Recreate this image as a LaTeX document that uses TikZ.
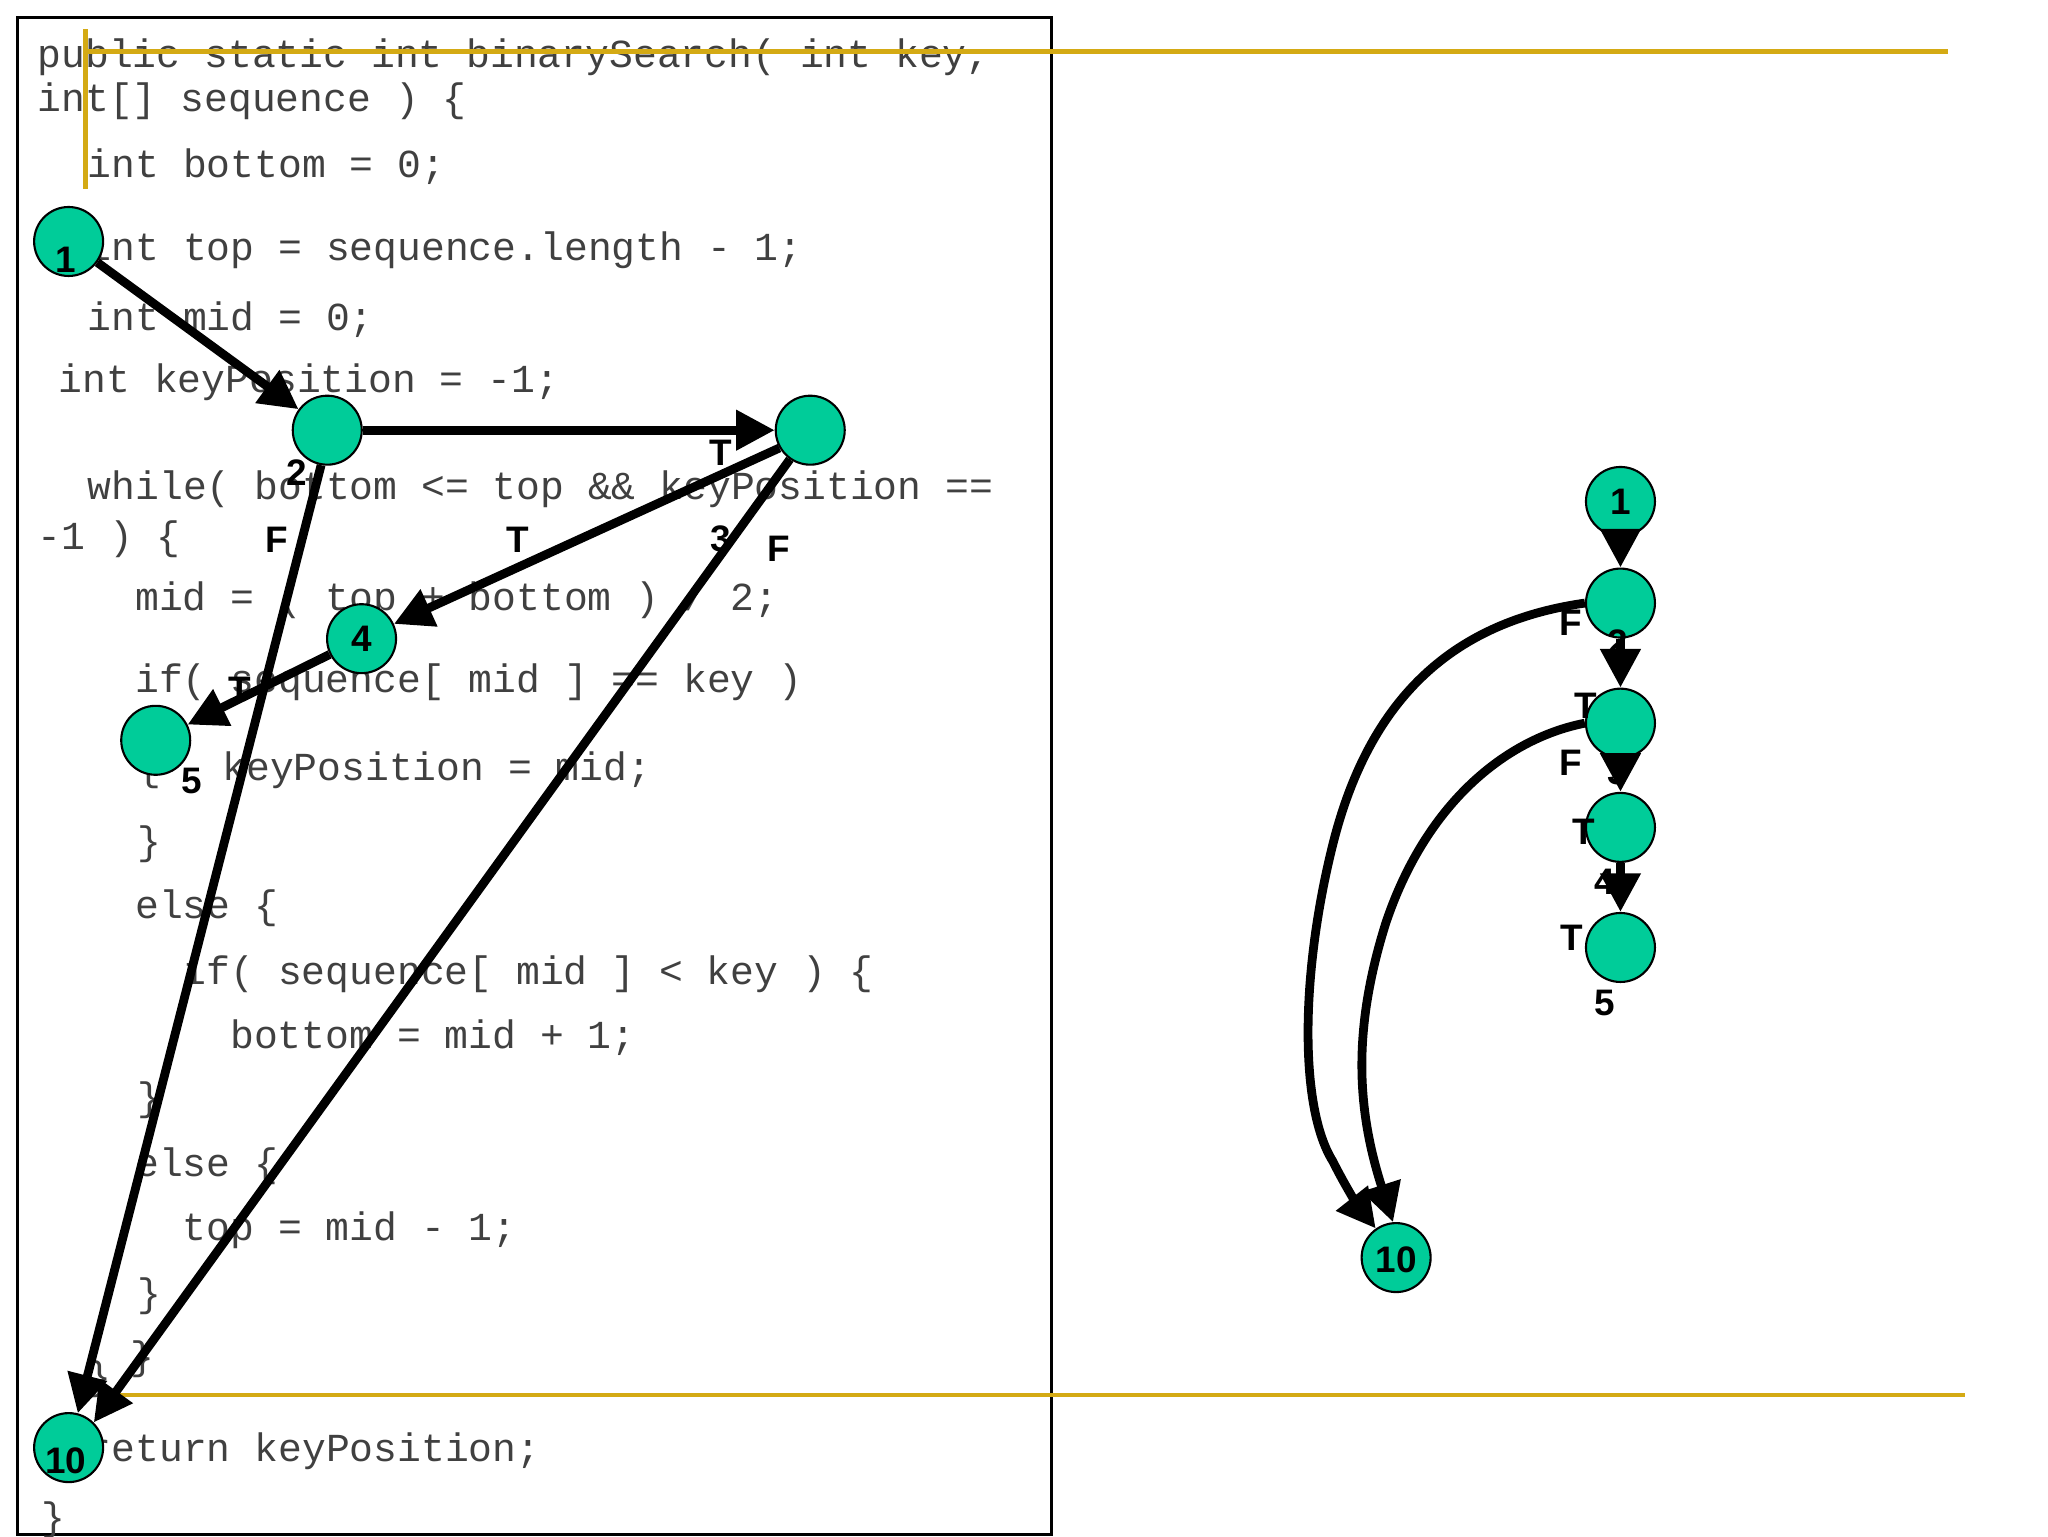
\documentclass[tikz,border=0pt]{standalone}
\usepackage{fontspec}
\setmainfont{Liberation Sans}
\newfontfamily\codefont{Liberation Mono}
\usetikzlibrary{arrows.meta}
\definecolor{teal2}{RGB}{0,204,153}
\definecolor{gold}{RGB}{212,170,20}
\tikzset{
 code/.style={anchor=west,inner sep=0,font=\codefont\fontsize{11.3}{13}\selectfont,text=black!75},
 vtx/.style={circle,draw=black,line width=0.6pt,fill=teal2,minimum size=0.69cm,inner sep=0},
 lab/.style={inner sep=0,font=\bfseries\fontsize{10.5}{11}\selectfont},
 arr/.style={line width=2.5pt,-{Triangle[length=11pt,width=11pt]}},
 yl/.style={draw=gold,line width=1.3pt}
}
\begin{document}
\begin{tikzpicture}[x=0.013196cm,y=-0.013196cm]
\useasboundingbox (0,0) rectangle (1552,1164);
\draw[line width=0.8pt] (13,13) rectangle (797,1163);
% code
\node[code] (c1) at (28,43) {public static int binarySearch( int key,};
\node[code] (c2) at (28,77) {int[] sequence ) \{};
\node[code] (c3) at (66,126) {int bottom = 0;};
\node[code] (c4) at (66,190) {int top = sequence.length - 1;};
\node[code] (c5) at (66,242) {int mid = 0;};
\node[code] (c6) at (44,290) {int keyPosition = -1;};
\node[code] (c7) at (66,371) {while( bottom <= top \&\& keyPosition ==};
\node[code] (c8) at (28,409) {-1 ) \{};
\node[code] (c9) at (102,455) {mid = ( top + bottom ) / 2;};
\node[code] (c10) at (102,517) {if( sequence[ mid ] == key )};
\node[code] (c11) at (104,584) {\{};
\node[code] (c11b) at (168,584) {keyPosition = mid;};
\node[code] (c12) at (104,640) {\}};
\node[code] (c13) at (102,688) {else \{};
\node[code] (c14) at (138,738) {if( sequence[ mid ] < key ) \{};
\node[code] (c15) at (174,786) {bottom = mid + 1;};
\node[code] (c16) at (104,834) {\}};
\node[code] (c17) at (102,884) {else \{};
\node[code] (c18) at (138,932) {top = mid - 1;};
\node[code] (c19) at (104,982) {\}};
\node[code] (c20) at (98,1030) {\}};
\node[code] (c21) at (66,1045) {\}};
\node[code] (c22) at (66,1100) {return keyPosition;};
\node[code] (c23) at (31,1152) {\}};
% yellow lines
\coordinate (ya) at (65,39); \coordinate (yb) at (1476,39);
\coordinate (yc) at (65,22); \coordinate (yd) at (65,143);
\coordinate (ye) at (75,1057); \coordinate (yf) at (1489,1057);
\draw[yl] (ya) -- (yb); \draw[yl] (yc) -- (yd); \draw[yl] (ye) -- (yf);
% left graph
\node[vtx] (a1) at (52,183) {};
\node[vtx] (a2) at (248,326) {};
\node[vtx] (a3) at (614,326) {};
\node[vtx] (a4) at (274,484) {};
\node[vtx] (a5) at (118,561) {};
\node[vtx] (a10) at (52,1097) {};
\draw[arr] (a1) -- (a2);
\draw[arr] (a2) -- (a3);
\draw[arr] (a3.-150) -- (a4);
\draw[arr] (a4) -- (a5);
\draw[arr] (a2.-100) -- (a10.75);
\draw[arr] (a3.-125) -- (a10.45);
\node[lab] (l1) at (50,197) {1};
\node[lab] (l2) at (225,358) {2};
\node[lab] (l3) at (546,408) {3};
\node[lab] (l4) at (274,484) {4};
\node[lab] (l5) at (145,592) {5};
\node[lab] (l10) at (50,1107) {10};
\node[lab] (t1) at (546,343) {T};
\node[lab] (f1) at (210,409) {F};
\node[lab] (t2) at (392,409) {T};
\node[lab] (f2) at (590,416) {F};
\node[lab] (t3) at (182,523) {T};
% right graph
\node[vtx] (b1) at (1228,380) {};
\node[vtx] (b2) at (1228,457) {};
\node[vtx] (b3) at (1228,548) {};
\node[vtx] (b4) at (1228,627) {};
\node[vtx] (b5) at (1228,718) {};
\node[vtx] (b10) at (1058,953) {};
\node[lab] (m1) at (1228,380) {1};
\node[lab] (m10) at (1058,955) {10};
\draw[arr] (b1) -- (b2);
\draw[arr] (b2) -- (b3);
\draw[arr] (b3) -- (b4);
\draw[arr] (b4) -- (b5);
\draw[arr] (b2.west) .. controls (1110,470) and (1040,520) .. (1010,640) .. controls (985,740) and (985,840) .. (1010,880) .. controls (1020,900) and (1030,915) .. (b10.125);
\draw[arr] (b3.west) .. controls (1140,560) and (1080,610) .. (1050,700) .. controls (1025,780) and (1028,840) .. (b10.95);
\node[lab] (m2) at (1226,487) {2};
\node[lab] (m3) at (1226,585) {3};
\node[lab] (m4) at (1216,668) {4};
\node[lab] (m5) at (1216,760) {5};
\node[lab] (rf1) at (1190,472) {F};
\node[lab] (rt1) at (1202,535) {T};
\node[lab] (rf2) at (1190,578) {F};
\node[lab] (rt2) at (1200,630) {T};
\node[lab] (rt3) at (1191,711) {T};
\end{tikzpicture}
\end{document}
